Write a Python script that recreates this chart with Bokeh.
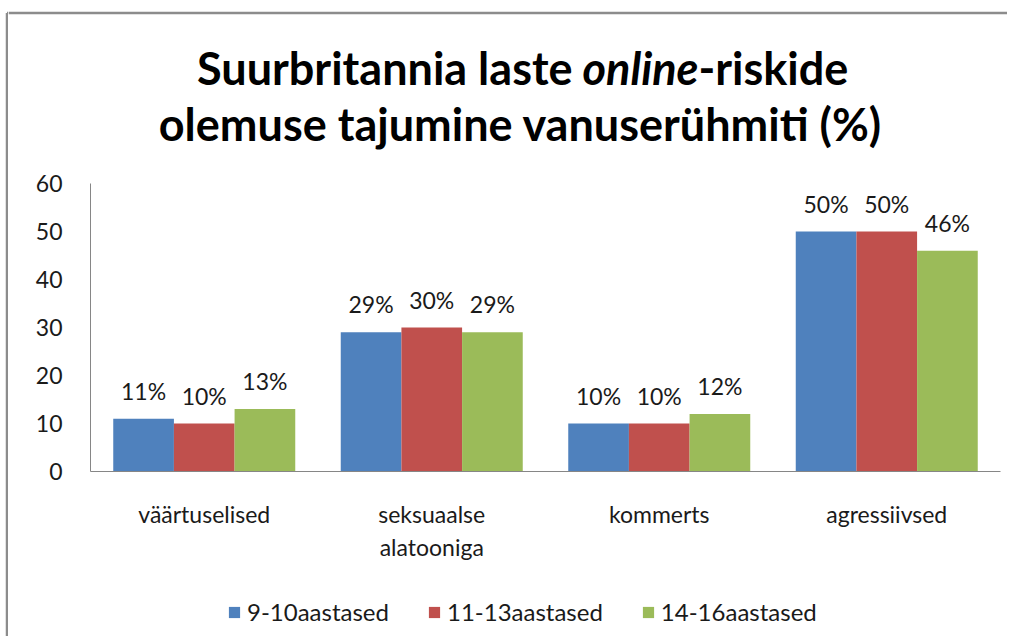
from bokeh.plotting import figure
from bokeh.layouts import row, column
from bokeh.models import (ColumnDataSource, FactorRange, Range1d, SingleIntervalTicker,
                          Legend, LegendItem)
from bokeh.transform import dodge
from bokeh.core.properties import value
from bokeh.embed import file_html
from bokeh.resources import INLINE

categories = ["väärtuselised", "seksuaalse\nalatooniga", "kommerts", "agressiivsed"]
series_names = ["9-10aastased", "11-13aastased", "14-16aastased"]
vals_9_10 = [11, 29, 10, 50]
vals_11_13 = [10, 30, 10, 50]
vals_14_16 = [13, 29, 12, 46]
colors = ["#4F81BD", "#C0504D", "#9BBB59"]
title_line1 = ["Suurbritannia laste", "online", "-riskide"]
title_line2 = "olemuse tajumine vanuserühmiti (%)"
y_max = 60
y_tick_step = 10

FONT = "Lato"
TXT = "#1a1a1a"
BORDER = "#8c8c8c"
SW = 8             # left strip width
W = 1007 - SW      # width of main column
TH = 165           # title figure height
CH = 406           # chart figure height
LH = 636 - TH - CH # legend figure height


def blank(width, height):
    f = figure(width=width, height=height, x_range=Range1d(0, width), y_range=Range1d(height, 0),
               x_axis_type=None, y_axis_type=None, output_backend="svg", toolbar_location=None,
               min_border=0, frame_align=False)
    f.outline_line_color = None
    f.background_fill_color = "white"
    f.border_fill_color = "white"
    return f


# left strip with the vertical border line
strip = blank(SW, 636)
strip.segment(x0=[6.5, 6.5], y0=[12.5, 12.5], x1=[6.5, SW], y1=[636, 12.5],
              line_color=BORDER, line_width=2.5)

# title figure
tf = blank(W, TH)
tf.segment(x0=[0], y0=[12.5], x1=[W], y1=[12.5], line_color=BORDER, line_width=2.5)
tkw = dict(text_font=value(FONT), text_font_size="45px", text_color="#000000",
           text_baseline="alphabetic")
tf.text(x=[564], y=[67], text=[title_line1[0]], text_align="right", text_font_style="bold", **tkw)
tf.text(x=[574], y=[67], text=[title_line1[1]], text_align="left", text_font_style="bold italic", **tkw)
tf.text(x=[690], y=[67], text=[title_line1[2]], text_align="left", text_font_style="bold", **tkw)
tf.text(x=[512], y=[123], text=[title_line2], text_align="center", text_font_style="bold", **tkw)

# chart figure
p = figure(width=W, height=CH, x_range=FactorRange(*categories, range_padding=0, factor_padding=0),
           y_range=Range1d(0, y_max), output_backend="svg", toolbar_location=None,
           min_border_left=82, min_border_right=7, min_border_top=18, min_border_bottom=100,
           frame_align=False)
p.outline_line_color = None
p.xgrid.grid_line_color = None
p.ygrid.grid_line_color = None
p.background_fill_color = "white"
p.border_fill_color = "white"

src = ColumnDataSource(dict(cat=categories, a=vals_9_10, b=vals_11_13, c=vals_14_16,
                            la=[f"{v}%" for v in vals_9_10],
                            lb=[f"{v}%" for v in vals_11_13],
                            lc=[f"{v}%" for v in vals_14_16]))
bw = 0.8 / 3
for i, (key, lab) in enumerate([("a", "la"), ("b", "lb"), ("c", "lc")]):
    off = (i - 1) * bw
    p.vbar(x=dodge("cat", off, range=p.x_range), top=key, width=bw, source=src,
           fill_color=colors[i], line_color=None)
    p.text(x=dodge("cat", off, range=p.x_range), y=key, text=lab, source=src,
           text_align="center", text_baseline="alphabetic", y_offset=-28,
           text_font=value(FONT), text_font_size="23px", text_color=TXT)

for ax in (p.xaxis[0], p.yaxis[0]):
    ax.axis_line_color = "#868686"
    ax.major_tick_line_color = None
    ax.minor_tick_line_color = None
    ax.major_label_text_font = FONT
    ax.major_label_text_font_size = "23px"
    ax.major_label_text_color = TXT
p.yaxis[0].ticker = SingleIntervalTicker(interval=y_tick_step)
p.yaxis[0].major_label_standoff = 22
p.xaxis[0].major_label_standoff = 22

# legend figure (swatches come from off-screen dummy renderers)
lf = blank(W, LH)
lrs = [lf.rect(x=[-50], y=[-50], width=1, height=1, fill_color=c, line_color=None) for c in colors]
legend = Legend(items=[LegendItem(label=n, renderers=[r]) for n, r in zip(series_names, lrs)],
                orientation="horizontal", location=(219, 10), padding=0, margin=0,
                border_line_color=None, background_fill_alpha=0,
                glyph_width=14, glyph_height=14, label_standoff=6, spacing=38,
                label_text_font=FONT, label_text_font_size="24px", label_text_color=TXT)
lf.add_layout(legend, "center")

layout = row(strip, column(tf, p, lf))
open("out.html", "w").write(file_html(layout, INLINE))
